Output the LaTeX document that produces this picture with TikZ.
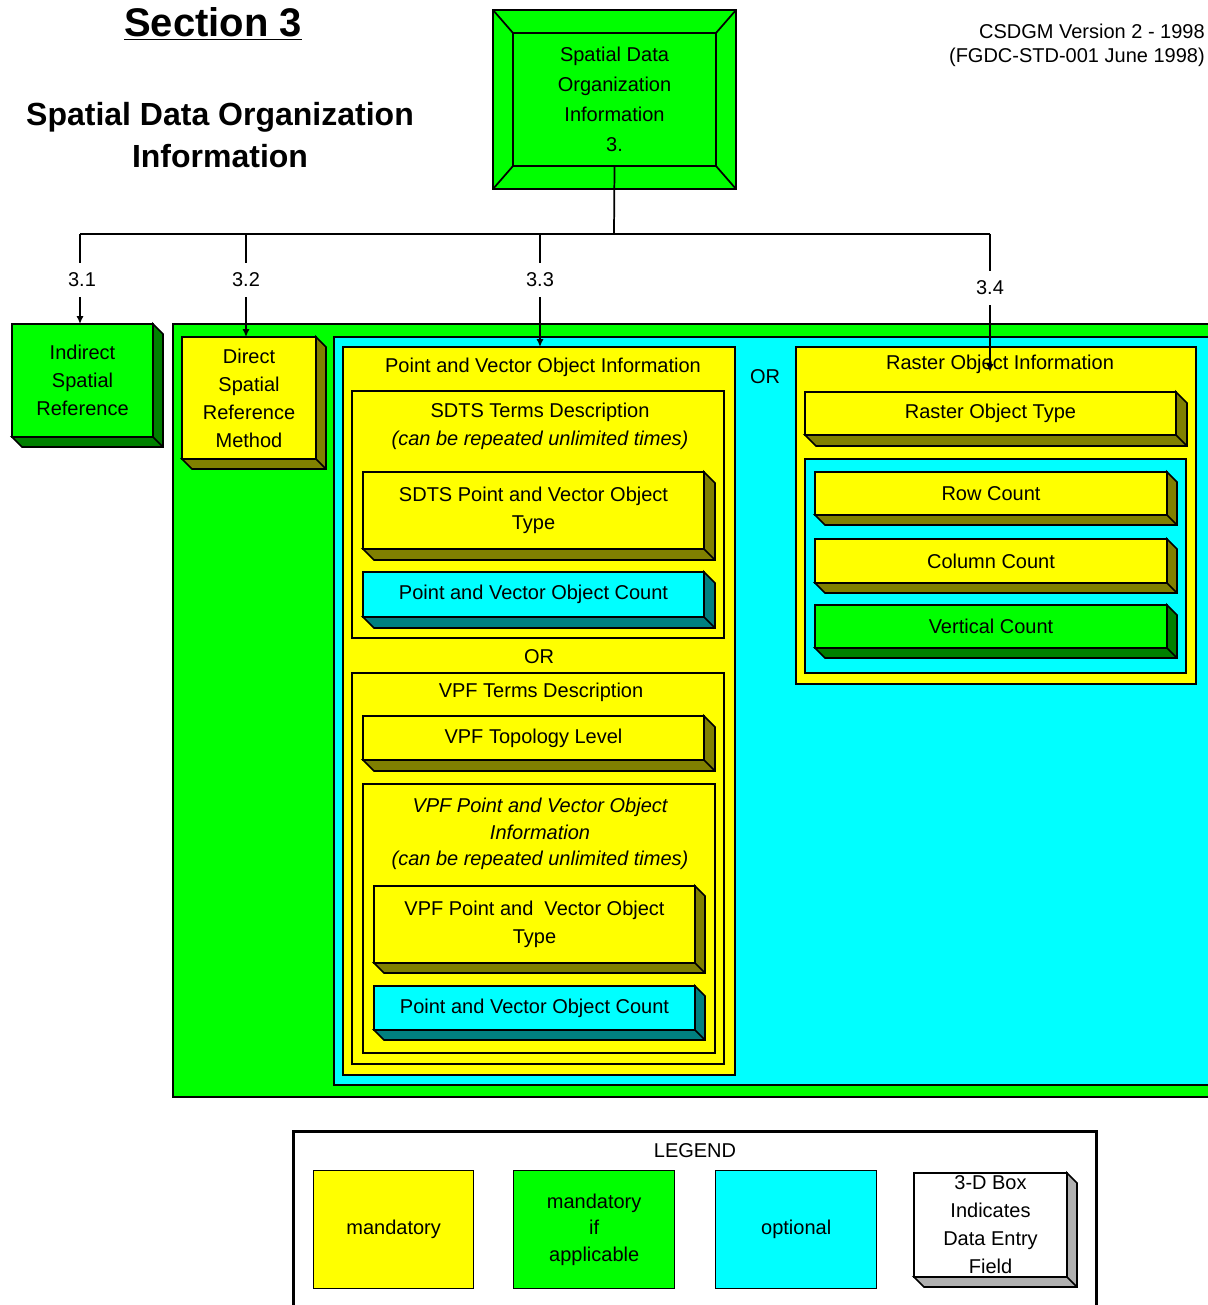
\documentclass[tikz,border=0pt]{standalone}
\usepackage{fontspec}
\setmainfont{Liberation Sans}
\usetikzlibrary{arrows.meta}
\definecolor{yel}{HTML}{FFFF00}
\definecolor{grn}{HTML}{00FF00}
\definecolor{cyn}{HTML}{00FFFF}
\definecolor{olv}{HTML}{808000}
\definecolor{dgrn}{HTML}{008000}
\definecolor{tealc}{HTML}{008080}
\definecolor{gry}{HTML}{B0B0B0}
\tikzset{
  frame/.style={draw=black, line width=1.3pt},
  txt/.style={font=\fontsize{15}{21}\selectfont, align=center, inner sep=0pt},
  lbl/.style={font=\fontsize{15}{18}\selectfont, inner sep=0pt, minimum height=25.5pt},
  conn/.style={line width=1.3pt},
  arr/.style={conn, -{Latex[length=6pt,width=5.5pt]}},
}
% container box: name, x1, y1, x2, y2, fill
\newcommand{\cont}[6]{%
  \node[frame, fill=#6, anchor=north west, inner sep=0pt, outer sep=0pt,
        minimum width={(#4-#2)*0.75pt}, minimum height={(#5-#3)*0.75pt}] (#1) at (#2,#3) {};}
% 3-D box: name, x1, y1, x2, y2, fill, shade, depth, text
\newcommand{\tdbox}[9]{%
  \filldraw[fill=#7, frame] (#2,#5) -- ++(#8,#8) -- ({#4+#8},{#5+#8}) -- ({#4+#8},{#3+#8}) -- (#4,#3) -- (#4,#5) -- cycle;
  \draw[frame] (#4,#5) -- ++(#8,#8);
  \node[frame, fill=#6, anchor=north west, outer sep=0pt, txt,
        minimum width={(#4-#2)*0.75pt}, minimum height={(#5-#3)*0.75pt}] (#1) at (#2,#3) {#9};}
\begin{document}
\begin{tikzpicture}[x=0.75pt, y=-0.75pt]
\useasboundingbox (0,0) rectangle (1207,1305);

% headings
\node[font=\bfseries\fontsize{30}{34}\selectfont, inner sep=0pt] (sec) at (213,24) {\underline{Section 3}};
\node[font=\bfseries\fontsize{24}{31.5}\selectfont, align=center, inner sep=0pt] (ttl) at (220,135) {Spatial Data Organization\\Information};
\node[font=\fontsize{15}{18}\selectfont, align=right, anchor=east, inner sep=0pt] (ver) at (1205,45) {CSDGM Version 2 - 1998\\(FGDC-STD-001 June 1998)};

% top box
\fill[grn] (493,10) rectangle (736,189);
\draw[frame] (493,10) rectangle (736,189);
\node[frame, fill=grn, anchor=north west, outer sep=0pt, txt, font=\fontsize{15}{22.5}\selectfont,
      minimum width={203*0.75pt}, minimum height={133*0.75pt}] (top) at (513,33) {Spatial Data\\Organization\\Information\\3.};
\draw[frame] (493,10) -- (top.north west);
\draw[frame] (736,10) -- (top.north east);
\draw[frame] (493,189) -- (top.south west);
\draw[frame] (736,189) -- (top.south east);

% 3.1
\tdbox{ind}{12}{324}{153}{437}{grn}{dgrn}{10}{Indirect\\Spatial\\Reference}

% containers
\cont{gbox}{173}{324}{1215}{1097}{grn}
\tdbox{dir}{182}{337}{316}{459}{yel}{olv}{10}{Direct\\Spatial\\Reference\\Method}
\cont{cbox}{334}{337}{1215}{1085}{cyn}
\cont{pvo}{343}{347}{735}{1075}{yel}
\node[txt] (pvot) at (543,367) {Point and Vector Object Information};
\cont{sdts}{352}{391}{724}{638}{yel}
\node[txt] (sdtt) at (540,426) {SDTS Terms Description\\\itshape(can be repeated unlimited times)};
\tdbox{sdtype}{363}{472}{704}{549}{yel}{olv}{11}{SDTS Point and Vector Object\\Type}
\tdbox{sdcount}{363}{572}{704}{617}{cyn}{tealc}{11}{Point and Vector Object Count}
\node[txt] (or1) at (539,657) {OR};
\cont{vpf}{352}{673}{724}{1064}{yel}
\node[txt] (vpft) at (541,692) {VPF Terms Description};
\tdbox{topo}{363}{716}{704}{760}{yel}{olv}{11}{VPF Topology Level}
\cont{vpfi}{363}{784}{715}{1053}{yel}
\node[txt, font=\itshape\fontsize{15}{20}\selectfont] (vpfit) at (540,834) {VPF Point and Vector Object\\Information\\(can be repeated unlimited times)};
\tdbox{vtype}{374}{886}{695}{963}{yel}{olv}{10}{VPF Point and\ \ Vector Object\\Type}
\tdbox{vcount}{374}{986}{695}{1030}{cyn}{tealc}{10}{Point and Vector Object Count}

\node[txt] (or2) at (765,377) {OR};
\cont{roi}{796}{347}{1196}{684}{yel}
\node[txt] (roit) at (1000,364) {Raster Object Information};
\tdbox{rtype}{805}{392}{1176}{435}{yel}{olv}{11}{Raster Object Type}
\cont{rcnt}{805}{459}{1186}{673}{cyn}
\tdbox{row}{815}{472}{1167}{515}{yel}{olv}{10}{Row Count}
\tdbox{col}{815}{539}{1167}{583}{yel}{olv}{10}{Column Count}
\tdbox{vert}{815}{605}{1167}{648}{grn}{dgrn}{10}{Vertical Count}

% connectors
\coordinate (j0) at (614,234);
\coordinate (j1) at (80,234);
\coordinate (j2) at (246,234);
\coordinate (j3) at (540,234);
\coordinate (j4) at (990,234);
\coordinate (e4) at (990,372);
\node[lbl] (l1) at (82,280) {3.1};
\node[lbl] (l2) at (246,280) {3.2};
\node[lbl] (l3) at (540,280) {3.3};
\node[lbl] (l4) at (990,288) {3.4};
\draw[conn] (top.south) -- (j0);
\draw[conn] (j1) -- (j4);
\draw[conn] (j1) -- (j1 |- l1.north);
\draw[conn] (j2) -- (j2 |- l2.north);
\draw[conn] (j3) -- (j3 |- l3.north);
\draw[conn] (j4) -- (j4 |- l4.north);
\draw[arr] (j1 |- l1.south) -- (j1 |- ind.north);
\draw[arr] (j2 |- l2.south) -- (j2 |- dir.north);
\draw[arr] (j3 |- l3.south) -- (j3 |- pvo.north);
\draw[arr] (j4 |- l4.south) -- (e4);

% legend
\node[draw, line width=2pt, anchor=north west, inner sep=0pt, minimum width={803*0.75pt}, minimum height={190*0.75pt}] (leg) at (292,1130) {};
\node[txt] (legt) at (695,1151) {LEGEND};
\node[draw, line width=1pt, fill=yel, anchor=north west, txt, minimum width={160*0.75pt}, minimum height={118*0.75pt}] (lm) at (313,1170) {mandatory};
\node[draw, line width=1pt, fill=grn, anchor=north west, txt, font=\fontsize{15}{20}\selectfont, minimum width={161*0.75pt}, minimum height={118*0.75pt}] (lma) at (513,1170) {mandatory\\if\\applicable};
\node[draw, line width=1pt, fill=cyn, anchor=north west, txt, minimum width={161*0.75pt}, minimum height={118*0.75pt}] (lo) at (715,1170) {optional};
\tdbox{l3d}{914}{1173}{1067}{1277}{white}{gry}{10}{3-D Box\\Indicates\\Data Entry\\Field}
\end{tikzpicture}
\end{document}
